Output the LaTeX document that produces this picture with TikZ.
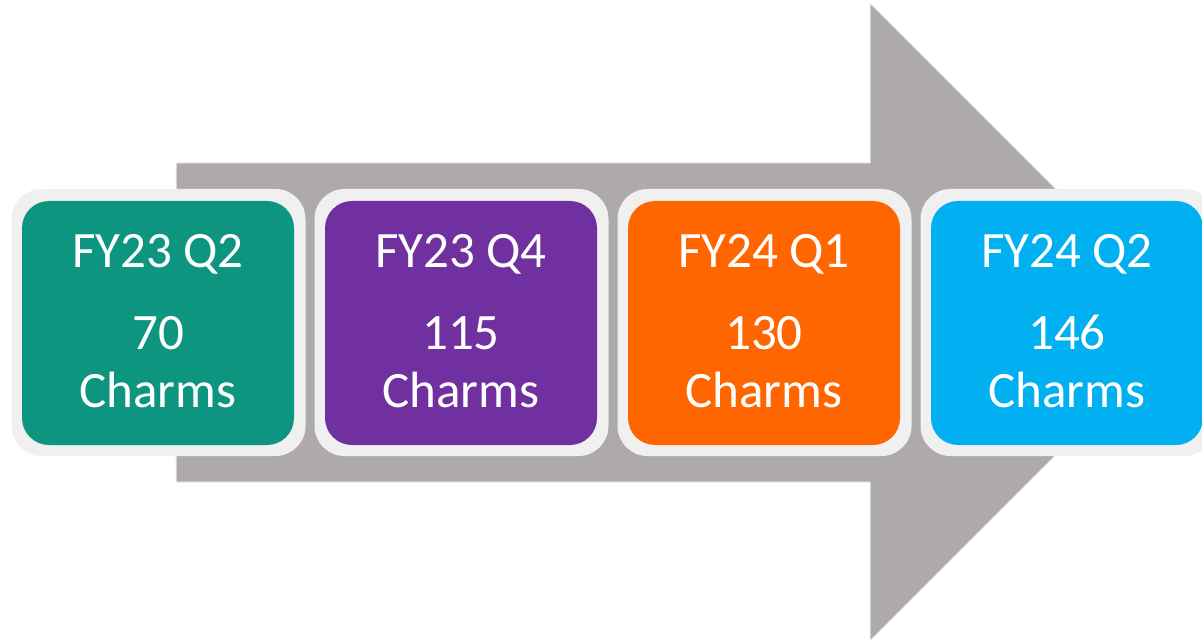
\documentclass[tikz,border=0pt]{standalone}
\usepackage{fontspec}
\setmainfont{Carlito}
\definecolor{arrowgray}{HTML}{AEAAA9}
\definecolor{rimgray}{HTML}{F0F0F0}
\definecolor{cteal}{HTML}{0D9580}
\definecolor{cpurple}{HTML}{7030A0}
\definecolor{corange}{HTML}{FF6600}
\definecolor{cblue}{HTML}{00B0F0}
\begin{document}
\begin{tikzpicture}[x=1pt,y=-1pt,
  rim/.style={fill=rimgray, rounded corners=30pt, minimum width=294pt, minimum height=267pt, inner sep=0pt, draw=none},
  card/.style={rounded corners=27pt, minimum width=272pt, minimum height=244pt, inner sep=0pt, draw=none},
  lbl/.style={text=white, font=\fontsize{51}{55}\selectfont, anchor=base, inner sep=0pt}]
\useasboundingbox (0,0) rectangle (1202,644);
\clip (0,0) rectangle (1202,644);
% big arrow
\path[fill=arrowgray, draw=rimgray, line width=1pt]
  (176,163) -- (870,163) -- (870,3) -- (1189,322) -- (870,641) -- (870,482) -- (176,482) -- cycle;
% cards
\foreach \i/\col/\t/\n in {0/cteal/FY23 Q2/70, 1/cpurple/FY23 Q4/115, 2/corange/FY24 Q1/130, 3/cblue/FY24 Q2/146}{
  \pgfmathsetmacro{\cx}{158+303*\i}
  \node[rim] (rim\i) at (\cx+0.5,322.5) {};
  \node[card, fill=\col] (card\i) at (\cx,323) {};
  \node[lbl] (t\i) at (\cx,268) {\t};
  \node[lbl] (n\i) at (\cx,349) {\n};
  \node[lbl] (c\i) at (\cx,407) {Charms};
}
\end{tikzpicture}
\end{document}
